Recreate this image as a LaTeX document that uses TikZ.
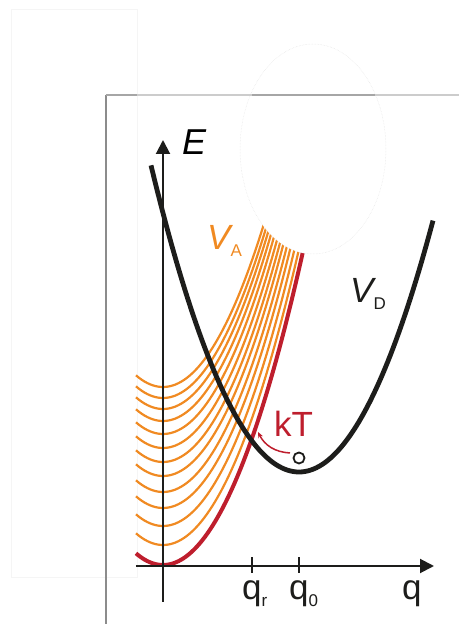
\documentclass[tikz,border=0pt]{standalone}
\usepackage{fontspec}
\setsansfont{Liberation Sans}
\usetikzlibrary{arrows.meta}
\definecolor{vaorange}{HTML}{F08A22}
\definecolor{vared}{HTML}{BE1E2D}
\definecolor{vdblack}{HTML}{1D1D1B}
\newcommand\lowsub[1]{\raisebox{-7pt}{\upshape\fontsize{17}{17}\selectfont #1}}
\tikzset{
  lbl/.style={inner sep=0pt,anchor=base west,font=\sffamily\fontsize{35}{35}\selectfont},
  axis/.style={line width=2pt,vdblack,-{Triangle[length=14pt,width=14pt]}},
  levelcurve/.style={vaorange,line width=2.2pt},
}

\begin{document}
\begin{tikzpicture}[x=1pt,y=1pt]
\useasboundingbox (-163,-58) rectangle (296,566);
\draw[black!4,line width=0.8pt] (-152,557) rectangle (-26,-11);
\foreach \k in {21,40,58,74,90,104,118,132,145,157,168,179} {\draw[levelcurve,domain=-27:140,samples=60] plot (\x,{\k+1.6*(\x/10)^2});}
\draw[vared,line width=4pt,domain=-27:142,samples=80] plot (\x,{1+1.6*(\x/10)^2});
\draw[vdblack,line width=4.8pt,domain=-12:270,samples=100] plot (\x,{94+1.4*((\x-136)/10)^2});
\fill[white] (150,417) ellipse [x radius=73,y radius=105];
\draw[black!10,line width=0.5pt,densely dotted] (150,417) ellipse [x radius=73,y radius=105];
\draw[black!45,line width=1.2pt] (-57,-58) -- (-57,471);
\draw[black!20,line width=1.2pt] (-57,471) -- (296,471);
\foreach \a/\b in {-57/-26,89/212} {\draw[black!35,line width=1.2pt] (\a,471) -- (\b,471);}
\coordinate (Ebot) at (0,-36);
\coordinate (Etop) at (0,426);
\coordinate (qleft) at (-27,0);
\coordinate (qright) at (271,0);
\draw[axis] (Ebot) -- (Etop);
\draw[axis] (qleft) -- (qright);
\foreach \t in {89,136} {\draw[vdblack,line width=2pt] (\t,-7) -- (\t,9);}
\node[lbl,font=\sffamily\itshape\fontsize{36}{36}\selectfont] (Elab) at (19,411) {E};
\node[lbl,vaorange] (VA) at (44,316) {\itshape V\lowsub{A}};
\node[lbl,vdblack] (VD) at (187,263) {\itshape V\lowsub{D}};
\node[lbl,vared] (kT) at (111,129) {kT};
\node[lbl,vdblack] (qr) at (79,-34) {q\lowsub{r}};
\node[lbl,vdblack] (q0) at (126,-34) {q\lowsub{0}};
\node[lbl,vdblack] (qlab) at (239,-34) {q};
\node[circle,draw=vdblack,line width=1.8pt,minimum size=11pt,inner sep=0pt] (qmin) at (136,108) {};
\coordinate (kTstart) at (127,113);
\coordinate (kTend) at (95,134);
\draw[vared,line width=1.5pt,-{Stealth[length=6pt,width=5pt]}] (kTstart) to[bend left=30] (kTend);
\end{tikzpicture}
\end{document}
